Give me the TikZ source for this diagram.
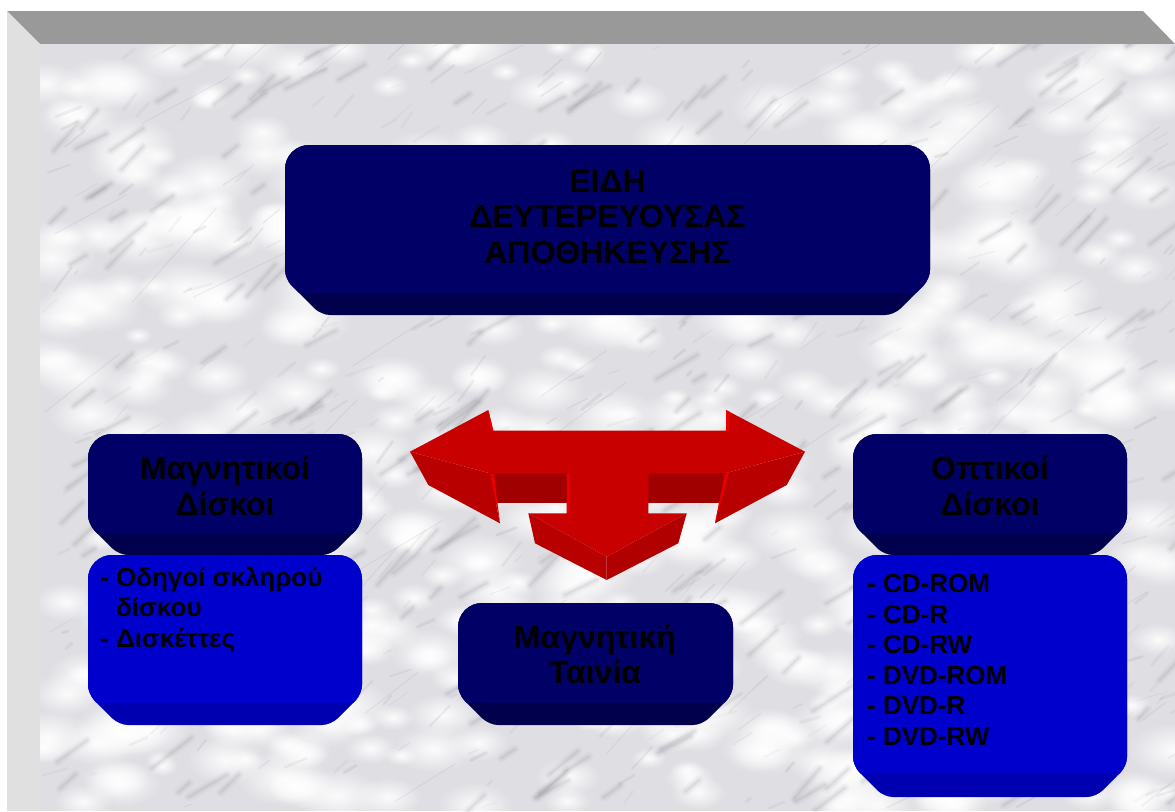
\documentclass[tikz,border=0pt]{standalone}
\usepackage{fontspec}
\usetikzlibrary{fadings}
\setmainfont{Liberation Sans}
\definecolor{bevtop}{HTML}{999999}
\definecolor{bevleft}{HTML}{E0E0E0}
\definecolor{marblebase}{HTML}{DEDEE3}
\definecolor{veincol}{HTML}{7E7E88}
\definecolor{navyface}{HTML}{000066}
\definecolor{navyband}{HTML}{00004C}
\definecolor{blueface}{HTML}{0000CC}
\definecolor{blueband}{HTML}{0000B0}
\definecolor{arrtop}{HTML}{C80000}
\definecolor{arrside}{HTML}{B80000}
\definecolor{arrsidedk}{HTML}{B00000}
\definecolor{arrshade}{HTML}{A00000}
\definecolor{arrlit}{HTML}{E80000}

\tikzfading[name=softfade, inner color=transparent!0, outer color=transparent!100]

% box with rounded top and chamfered, darker bottom band
% #1 x1, #2 y1, #3 x2, #4 y2, #5 band top, #6 face colour, #7 band colour, #8 chamfer
\newcommand\bevelbox[8]{%
  \fill[#7] (#1,{#4-#8}) [rounded corners=24pt] -- (#1,#2) -- (#3,#2)
     [rounded corners=9pt] -- (#3,{#4-#8}) -- ({#3-#8},#4) -- ({#1+#8},#4) -- cycle;
  \begin{scope}
    \clip ({#1-2},{#2-2}) rectangle ({#3+2},#5);
    \fill[#6] (#1,{#4-#8}) [rounded corners=24pt] -- (#1,#2) -- (#3,#2)
       [rounded corners=9pt] -- (#3,{#4-#8}) -- ({#3-#8},#4) -- ({#1+#8},#4) -- cycle;
  \end{scope}}

\tikzset{
  boxtext/.style={text=black, inner sep=0pt, font=\bfseries},
  headtext/.style={boxtext, align=center, font=\bfseries\fontsize{32}{36}\selectfont},
  listtext/.style={boxtext, align=left, font=\bfseries\fontsize{26}{30.5}\selectfont},
  softblob/.style={path fading=softfade},
  vein/.style={veincol, line cap=round},
}

\begin{document}
\begin{tikzpicture}[x=1pt, y=-1pt]
  \useasboundingbox (0,0) rectangle (1175,811);
  \fill[white] (0,0) rectangle (1175,811);

  % raised frame
  \fill[bevtop] (7,11) -- (1143,11) -- (1175,44) -- (40,44) -- cycle;
  \fill[bevleft] (7,11) -- (40,44) -- (40,811) -- (7,811) -- cycle;

  % marble surface
  \begin{scope}
    \clip (40,44) rectangle (1175,811);
    \fill[marblebase] (40,44) rectangle (1175,811);
    \pgfmathsetseed{4711}
    % bright patches
    \foreach \i in {1,...,520} {
      \pgfmathsetmacro\mx{40+1135*rnd}
      \pgfmathsetmacro\my{44+767*rnd}
      \pgfmathsetmacro\mr{14+34*rnd}
      \fill[white, opacity=0.9, softblob]
        (\mx,\my) ellipse [x radius=\mr, y radius=0.6*\mr];
    }
    % soft diagonal grey streaks
    \foreach \i in {1,...,260} {
      \pgfmathsetmacro\mx{40+1135*rnd}
      \pgfmathsetmacro\my{44+767*rnd}
      \pgfmathsetmacro\ml{12+40*rnd}
      \pgfmathsetmacro\ma{-25-25*rnd}
      \draw[vein, line width=9pt, opacity=0.05] (\mx,\my) -- ++(\ma:\ml);
      \draw[vein, line width=5pt, opacity=0.07] (\mx,\my) -- ++(\ma:\ml);
      \draw[vein, line width=2pt, opacity=0.10] (\mx,\my) -- ++(\ma:\ml);
    }
    % short veins
    \foreach \i in {1,...,500} {
      \pgfmathsetmacro\mx{40+1135*rnd}
      \pgfmathsetmacro\my{44+767*rnd}
      \pgfmathsetmacro\ml{5+25*rnd}
      \pgfmathsetmacro\ma{-15-40*rnd}
      \pgfmathsetmacro\mw{0.8+2.5*rnd}
      \pgfmathsetmacro\mo{0.04+0.10*rnd}
      \draw[vein, line width=\mw pt, opacity=\mo] (\mx,\my) -- ++(\ma:\ml);
    }
    % long faint veins
    \foreach \i in {1,...,40} {
      \pgfmathsetmacro\mx{40+1135*rnd}
      \pgfmathsetmacro\my{44+767*rnd}
      \pgfmathsetmacro\ml{50+120*rnd}
      \pgfmathsetmacro\ma{-25-25*rnd}
      \draw[vein, line width=1pt, opacity=0.12] (\mx,\my) -- ++(\ma:\ml);
    }
  \end{scope}

  % boxes
  \bevelbox{285}{145}{930}{315}{292}{navyface}{navyband}{36}
  \bevelbox{88}{434}{362}{555}{533}{navyface}{navyband}{31}
  \bevelbox{88}{555}{362}{725}{702}{blueface}{blueband}{31}
  \bevelbox{853}{434}{1127}{555}{533}{navyface}{navyband}{31}
  \bevelbox{853}{555}{1127}{797}{773}{blueface}{blueband}{31}
  \bevelbox{458}{603}{733}{725}{702}{navyface}{navyband}{31}

  % three-way arrow
  \fill[arrshade] (490,473.3) rectangle (566.7,503.3);
  \fill[arrshade] (648.3,473.3) rectangle (725,503.3);
  \fill[arrside] (410,451.7) -- (428.3,485) -- (500,523.3) -- (490,473.3) -- cycle;
  \fill[arrside] (805,451.7) -- (786.7,485) -- (715,523.3) -- (725,473.3) -- cycle;
  \fill[arrside] (528.3,513.3) -- (535,543.3) -- (606.7,580) -- (606.7,556.7) -- cycle;
  \fill[arrsidedk] (686.7,513.3) -- (678.3,543.3) -- (606.7,580) -- (606.7,556.7) -- cycle;
  \fill[arrtop] (410,451.7) -- (488.3,410) -- (493.3,430.7) -- (726,430.7) -- (726,410)
    -- (805,451.7) -- (725,473.3) -- (648.3,473.3) -- (648.3,513.3) -- (686.7,513.3)
    -- (606.7,556.7) -- (528.3,513.3) -- (566.7,513.3) -- (566.7,473.3)
    -- (490,473.3) -- cycle;
  \fill[arrlit] (488.3,410) -- (493.3,430.7) -- (490.8,430.7) -- cycle;
  \fill[arrlit] (490,473.3) -- (494,474) -- (500,523.3) -- cycle;
  \fill[arrlit] (726,410) -- (730,412) -- (728.5,430.7) -- (726,430.7) -- cycle;
  \fill[arrlit] (725,473.3) -- (728.5,474) -- (715,523.3) -- cycle;
  \fill[arrlit] (566.7,473.3) rectangle (569.7,513.3);

  % labels (base anchor = baseline of the last line)
  \node[headtext, font=\bfseries\fontsize{32}{35.5}\selectfont, anchor=base]
    (title) at (607.5,263) {ΕΙΔΗ\\ΔΕΥΤΕΡΕΥΟΥΣΑΣ\\ΑΠΟΘΗΚΕΥΣΗΣ};
  \node[headtext, anchor=base] (magn) at (225,515) {Μαγνητικοί\\Δίσκοι};
  \node[headtext, anchor=base] (opt) at (990,515) {Οπτικοί\\Δίσκοι};
  \node[headtext, font=\bfseries\fontsize{32}{35}\selectfont, anchor=base]
    (tape) at (595,683) {Μαγνητική\\Ταινία};
  \node[listtext, anchor=base west] (magnlist) at (100,647)
    {- Οδηγοί σκληρού\\\hspace*{16pt}δίσκου\\- Δισκέττες};
  \node[listtext, anchor=base west] (optlist) at (867,745)
    {- CD-ROM\\- CD-R\\- CD-RW\\- DVD-ROM\\- DVD-R\\- DVD-RW};
\end{tikzpicture}
\end{document}
